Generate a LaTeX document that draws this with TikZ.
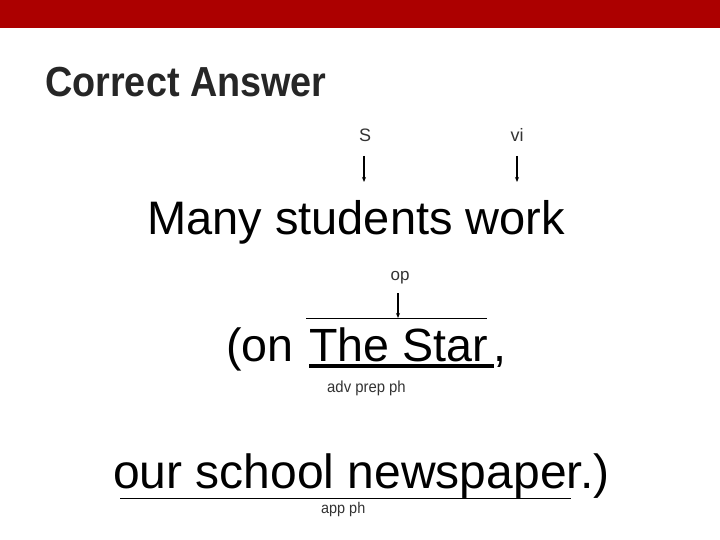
\documentclass[tikz,border=0pt]{standalone}
\usetikzlibrary{arrows.meta}
\usepackage{fontspec}
\setmainfont{Liberation Sans}
\newfontfamily\titlefont[FakeStretch=0.9]{Liberation Sans}
\newfontfamily\labfont[FakeStretch=0.93]{Liberation Sans}
\definecolor{barred}{RGB}{172,0,0}
\definecolor{titlegray}{RGB}{38,38,38}
\definecolor{labgray}{RGB}{51,51,51}
\begin{document}
\begin{tikzpicture}[x=1pt,y=-1pt,
  big/.style={inner sep=0pt,anchor=base west,text=black,font=\fontsize{47}{50}\selectfont},
  lab/.style={inner sep=0pt,anchor=base,text=labgray},
  arr/.style={-{Stealth[length=5pt,width=4pt]},line width=1.3pt,black},
  rule/.style={line width=1pt,black}]
\useasboundingbox (0,0) rectangle (720,540);
\fill[barred] (0,0) rectangle (720,28);
\node[inner sep=0pt,anchor=base west,text=titlegray,font=\titlefont\bfseries\fontsize{42}{46}\selectfont] (title) at (45,97) {Correct Answer};
% labels
\node[lab,font=\fontsize{18}{20}\selectfont] (s) at (365,142) {S};
\node[lab,font=\fontsize{18}{20}\selectfont] (vi) at (517,142) {vi};
\coordinate (sa1) at (364,156); \coordinate (sa2) at (364,182);
\coordinate (va1) at (517,156); \coordinate (va2) at (517,182);
\draw[arr] (sa1) -- (sa2);
\draw[arr] (va1) -- (va2);
% line 1
\node[big] (l1) at (147,234) {Many students work};
% op
\node[lab,font=\fontsize{17}{19}\selectfont] (op) at (400,280) {op};
\coordinate (oa1) at (398,293); \coordinate (oa2) at (398,318);
\draw[arr] (oa1) -- (oa2);
\coordinate (t1) at (306,318); \coordinate (t2) at (487,318);
\draw[rule] (t1) -- (t2);
% line 2
\node[big,font=\fontsize{46.6}{50}\selectfont] (l2) at (226,361) {(on\hspace{3pt} The Star\kern5pt,};
\coordinate (u1) at (309,366); \coordinate (u2) at (494,366);
\draw[line width=3.6pt,black] (u1) -- (u2);
\node[lab,anchor=base west,font=\labfont\fontsize{16}{18}\selectfont] (adv) at (327,392) {adv prep ph};
% line 3
\node[big,font=\fontsize{48}{52}\selectfont] (l3) at (113,488) {our school newspaper.)};
\coordinate (w1) at (120,498); \coordinate (w2) at (571,498);
\draw[rule] (w1) -- (w2);
\node[lab,anchor=base west,font=\labfont\fontsize{15.5}{18}\selectfont] (app) at (321,513) {app ph};
\end{tikzpicture}
\end{document}
